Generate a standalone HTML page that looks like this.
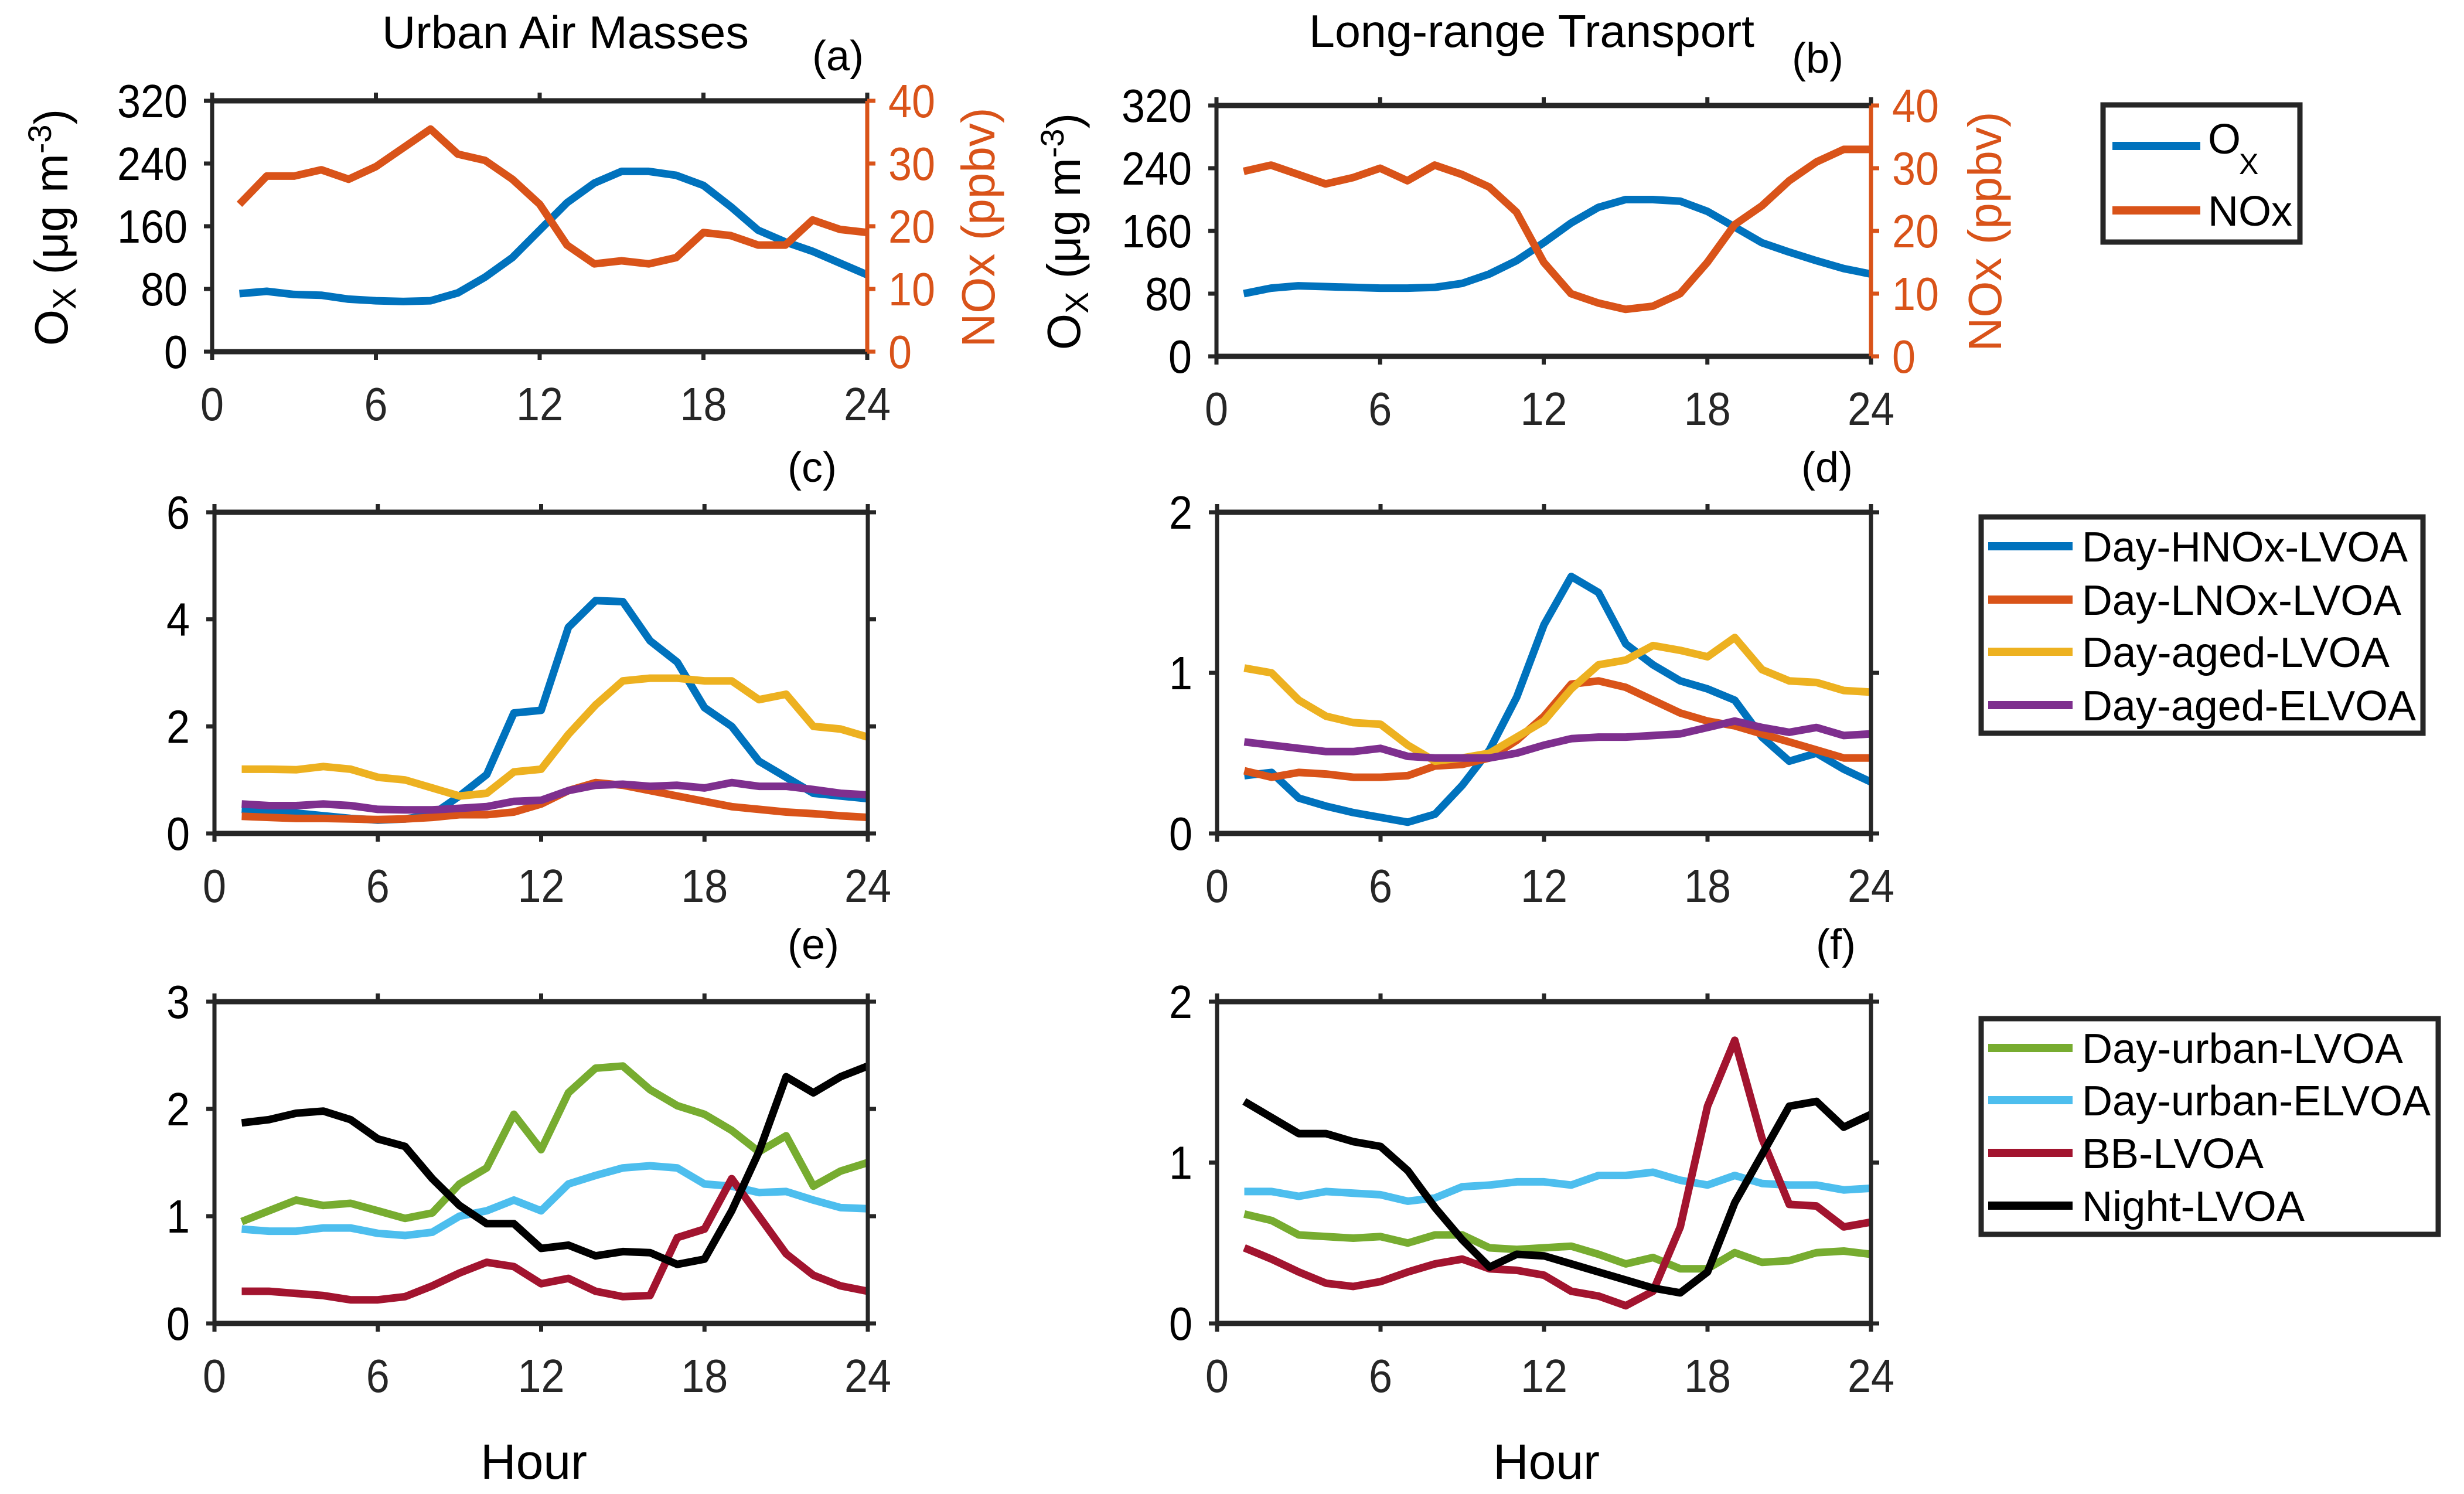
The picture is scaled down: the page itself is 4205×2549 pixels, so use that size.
<!DOCTYPE html>
<html><head><meta charset="utf-8">
<style>
html,body{margin:0;padding:0;background:#fff;}
svg{display:block;}
text{font-family:"Liberation Sans",Arial,sans-serif;}
</style></head>
<body>
<svg id="fig" xmlns="http://www.w3.org/2000/svg" width="4205" height="2549" viewBox="0 0 4205 2549">
<rect width="4205" height="2549" fill="#fff"/>
</svg>
<script>
const hours = [1,2,3,4,5,6,7,8,9,10,11,12,13,14,15,16,17,18,19,20,21,22,23,24];
const xTicks = [0,6,12,18,24];
// Panel a
const aOx  = [74,77,73,72,67,65,64,65,75,95,120,155,190,215,230,230,225,212,185,155,140,128,113,98];
const aNOx = [23.5,28,28,29,27.5,29.5,32.5,35.5,31.5,30.5,27.5,23.5,17,14,14.5,14,15,19,18.5,17,17,21,19.5,19];
// Panel b
const bOx  = [80,87,90,89,88,87,87,88,93,105,122,145,170,190,200,200,198,185,165,145,133,122,112,105];
const bNOx = [29.5,30.5,29,27.5,28.5,30,28,30.5,29,27,23,15,10,8.5,7.5,8,10,15,21,24,28,31,33,33];
const oxTicks = [0,80,160,240,320];
const noxTicks = [0,10,20,30,40];
// Panel c
const cHNOx = [0.45,0.42,0.38,0.33,0.28,0.25,0.27,0.35,0.7,1.1,2.25,2.3,3.85,4.35,4.33,3.6,3.2,2.35,2.0,1.35,1.05,0.75,0.7,0.65];
const cLNOx = [0.32,0.3,0.28,0.28,0.27,0.26,0.27,0.3,0.35,0.35,0.4,0.55,0.8,0.95,0.9,0.8,0.7,0.6,0.5,0.45,0.4,0.37,0.33,0.3];
const cAged = [1.2,1.2,1.19,1.25,1.2,1.05,1.0,0.85,0.7,0.75,1.15,1.2,1.85,2.4,2.85,2.9,2.9,2.85,2.85,2.5,2.6,2.0,1.95,1.8];
const cAgedE = [0.55,0.52,0.52,0.55,0.52,0.45,0.44,0.44,0.47,0.5,0.6,0.62,0.8,0.9,0.92,0.88,0.9,0.85,0.95,0.88,0.88,0.82,0.75,0.72];
const cTicks = [0,2,4,6];
// Panel d
const dHNOx = [0.36,0.38,0.22,0.17,0.13,0.1,0.07,0.12,0.3,0.52,0.85,1.3,1.6,1.5,1.18,1.05,0.95,0.9,0.83,0.6,0.45,0.5,0.4,0.32];
const dLNOx = [0.39,0.35,0.38,0.37,0.35,0.35,0.36,0.42,0.43,0.47,0.58,0.73,0.93,0.95,0.91,0.83,0.75,0.7,0.67,0.62,0.57,0.52,0.47,0.47];
const dAged = [1.03,1.0,0.83,0.73,0.69,0.68,0.55,0.45,0.47,0.5,0.6,0.7,0.9,1.05,1.08,1.17,1.14,1.1,1.22,1.02,0.95,0.94,0.89,0.88];
const dAgedE = [0.57,0.55,0.53,0.51,0.51,0.53,0.48,0.47,0.47,0.47,0.5,0.55,0.59,0.6,0.6,0.61,0.62,0.66,0.7,0.66,0.63,0.66,0.61,0.62];
const dTicks = [0,1,2];
// Panel e
const eUrbanL = [0.95,1.05,1.15,1.1,1.12,1.05,0.98,1.03,1.3,1.45,1.95,1.62,2.15,2.38,2.4,2.18,2.03,1.95,1.8,1.6,1.75,1.28,1.42,1.5];
const eUrbanE = [0.88,0.86,0.86,0.89,0.89,0.84,0.82,0.85,1.0,1.05,1.15,1.05,1.3,1.38,1.45,1.47,1.45,1.3,1.28,1.22,1.23,1.15,1.08,1.07];
const eBB = [0.3,0.3,0.28,0.26,0.22,0.22,0.25,0.35,0.47,0.57,0.53,0.37,0.42,0.3,0.25,0.26,0.8,0.88,1.35,1.0,0.65,0.45,0.35,0.3];
const eNight = [1.87,1.9,1.96,1.98,1.9,1.72,1.65,1.35,1.1,0.93,0.93,0.7,0.73,0.63,0.67,0.66,0.55,0.6,1.05,1.6,2.3,2.15,2.3,2.4];
const eTicks = [0,1,2,3];
// Panel f
const fUrbanL = [0.68,0.64,0.55,0.54,0.53,0.54,0.5,0.55,0.55,0.47,0.46,0.47,0.48,0.43,0.37,0.41,0.34,0.34,0.44,0.38,0.39,0.44,0.45,0.43];
const fUrbanE = [0.82,0.82,0.79,0.82,0.81,0.8,0.76,0.78,0.85,0.86,0.88,0.88,0.86,0.92,0.92,0.94,0.89,0.86,0.92,0.87,0.86,0.86,0.83,0.84];
const fBB = [0.47,0.4,0.32,0.25,0.23,0.26,0.32,0.37,0.4,0.34,0.33,0.3,0.2,0.17,0.11,0.2,0.6,1.35,1.76,1.15,0.74,0.73,0.6,0.63];
const fNight = [1.38,1.28,1.18,1.18,1.13,1.1,0.95,0.72,0.52,0.35,0.43,0.42,0.37,0.32,0.27,0.22,0.19,0.32,0.75,1.05,1.35,1.38,1.22,1.3];
const fTicks = [0,1,2];

const NS = "http://www.w3.org/2000/svg";
const svg = document.getElementById('fig');
const C = {blue:"#0072BD",orange:"#D95319",yellow:"#EDB120",purple:"#7E2F8E",green:"#77AC30",cyan:"#4DBEEE",red:"#A2142F",black:"#000000"};
function mk(tag, attrs, parent){const e=document.createElementNS(NS,tag);for(const k in attrs)e.setAttribute(k,attrs[k]);(parent||svg).appendChild(e);return e;}
function txt(s, attrs, parent){const t=mk('text',attrs,parent);t.textContent=s;return t;}

function panel(name, box, yMax, yTicksArr, series, opts){
  opts = opts||{};
  const g = mk('g',{});
  
  
  const xs = v => box.x0 + (v/24)*(box.x1-box.x0);
  const ys = v => box.y1 - (v/yMax)*(box.y1-box.y0);
  series.forEach(s=>{
    const sc = s.yMax ? (v => box.y1 - (v/s.yMax)*(box.y1-box.y0)) : ys;
    const pts = hours.map((h,i)=>xs(h).toFixed(1)+","+sc(s.data[i]).toFixed(1)).join(" ");
    const p = mk('polyline',{points:pts,fill:"none",stroke:s.color,"stroke-width":13,"stroke-linejoin":"round"},g);
    
    
  });
  const ax = mk('g',{},g);
  
  
  const rc = opts.rightColor || "#262626";
  mk('line',{x1:box.x0,y1:box.y0,x2:box.x1,y2:box.y0,stroke:"#262626","stroke-width":9},ax);
  mk('line',{x1:box.x0,y1:box.y1,x2:box.x1,y2:box.y1,stroke:"#262626","stroke-width":9},ax);
  mk('line',{x1:box.x0,y1:box.y0,x2:box.x0,y2:box.y1,stroke:"#262626","stroke-width":7},ax);
  mk('line',{x1:box.x1,y1:box.y0,x2:box.x1,y2:box.y1,stroke:rc,"stroke-width":7},ax);
  xTicks.forEach(t=>{
    const x = xs(t);
    mk('line',{x1:x,y1:box.y0-14,x2:x,y2:box.y0,stroke:"#262626","stroke-width":7},ax);
    mk('line',{x1:x,y1:box.y1,x2:x,y2:box.y1+14,stroke:"#262626","stroke-width":7},ax);
    const s = String(t);
    const l = txt(s,{x:x,y:box.y1+117,"font-size":80,"text-anchor":"middle",fill:"#262626",textLength:s.length*40,lengthAdjust:"spacingAndGlyphs"},ax);
    
    
  });
  yTicksArr.forEach(t=>{
    const y = ys(t);
    mk('line',{x1:box.x0-14,y1:y,x2:box.x0,y2:y,stroke:"#262626","stroke-width":7},ax);
    if(!opts.rightTicks) mk('line',{x1:box.x1,y1:y,x2:box.x1+14,y2:y,stroke:"#262626","stroke-width":7},ax);
    const s = String(t);
    const l = txt(s,{x:box.x0-42,y:y+28,"font-size":80,"text-anchor":"end",fill:"#000",textLength:s.length*40,lengthAdjust:"spacingAndGlyphs"},ax);
    
    
  });
  if(opts.rightTicks){
    opts.rightTicks.forEach(t=>{
      const y = box.y1 - (t/opts.rightMax)*(box.y1-box.y0);
      mk('line',{x1:box.x1,y1:y,x2:box.x1+14,y2:y,stroke:rc,"stroke-width":7},ax);
      const s = String(t);
      const l = txt(s,{x:box.x1+36,y:y+28,"font-size":80,"text-anchor":"start",fill:rc,textLength:s.length*40,lengthAdjust:"spacingAndGlyphs"},ax);
      
      
    });
  }
  return g;
}

const A = {x0:362,x1:1480,y0:172,y1:600};
const B = {x0:2076,x1:3193,y0:180,y1:608};
const Cb = {x0:366,x1:1481,y0:874,y1:1422};
const D = {x0:2077,x1:3193,y0:874,y1:1422};
const E = {x0:366,x1:1481,y0:1709,y1:2258};
const F = {x0:2077,x1:3193,y0:1709,y1:2258};

panel('panel-a',A,320,oxTicks,[{name:'ox-line',data:aOx,color:C.blue},{name:'nox-line',data:aNOx,color:C.orange,yMax:40}],{rightTicks:noxTicks,rightMax:40,rightColor:C.orange});
panel('panel-b',B,320,oxTicks,[{name:'ox-line',data:bOx,color:C.blue},{name:'nox-line',data:bNOx,color:C.orange,yMax:40}],{rightTicks:noxTicks,rightMax:40,rightColor:C.orange});
panel('panel-c',Cb,6,cTicks,[
  {name:'day-hnox-lvoa-line',data:cHNOx,color:C.blue},
  {name:'day-lnox-lvoa-line',data:cLNOx,color:C.orange},
  {name:'day-aged-lvoa-line',data:cAged,color:C.yellow},
  {name:'day-aged-elvoa-line',data:cAgedE,color:C.purple}]);
panel('panel-d',D,2,dTicks,[
  {name:'day-hnox-lvoa-line',data:dHNOx,color:C.blue},
  {name:'day-lnox-lvoa-line',data:dLNOx,color:C.orange},
  {name:'day-aged-lvoa-line',data:dAged,color:C.yellow},
  {name:'day-aged-elvoa-line',data:dAgedE,color:C.purple}]);
panel('panel-e',E,3,eTicks,[
  {name:'day-urban-lvoa-line',data:eUrbanL,color:C.green},
  {name:'day-urban-elvoa-line',data:eUrbanE,color:C.cyan},
  {name:'bb-lvoa-line',data:eBB,color:C.red},
  {name:'night-lvoa-line',data:eNight,color:C.black}]);
panel('panel-f',F,2,fTicks,[
  {name:'day-urban-lvoa-line',data:fUrbanL,color:C.green},
  {name:'day-urban-elvoa-line',data:fUrbanE,color:C.cyan},
  {name:'bb-lvoa-line',data:fBB,color:C.red},
  {name:'night-lvoa-line',data:fNight,color:C.black}]);

function legend(name, box, entries, lineX0, lineX1, textX, fs, tl){
  const g = mk('g',{});
  
  
  mk('rect',{x:box.x0,y:box.y0,width:box.x1-box.x0,height:box.y1-box.y0,fill:"#fff",stroke:"#262626","stroke-width":9},g);
  entries.forEach(e=>{
    mk('line',{x1:lineX0,y1:e.y,x2:lineX1,y2:e.y,stroke:e.color,"stroke-width":14},g);
    if(e.label){
      const attrs = {x:textX,y:e.y+26,"font-size":fs,fill:"#000"};
      if(tl) {attrs.textLength=e.tl||tl; attrs.lengthAdjust="spacingAndGlyphs";}
      const t = txt(e.label,attrs,g);
      
      
    }
  });
  return g;
}
const lg1 = legend('legend-ox-nox',{x0:3589,y0:179,x1:3925,y1:413},[{y:249,color:C.blue},{y:359,color:C.orange,label:"NOx"}],3605,3755,3768,72,0);
const ox = txt("O",{x:3768,y:262,"font-size":72,fill:"#000"},lg1);


const oxs = txt("X",{x:3821,y:297,"font-size":50,fill:"#000"},lg1);



legend('legend-day-factors',{x0:3381,y0:882,x1:4135,y1:1251},[
  {y:932,color:C.blue,label:"Day-HNOx-LVOA",tl:556},
  {y:1023,color:C.orange,label:"Day-LNOx-LVOA",tl:545},
  {y:1112,color:C.yellow,label:"Day-aged-LVOA",tl:525},
  {y:1203,color:C.purple,label:"Day-aged-ELVOA",tl:570}],3393,3537,3553,72,550);
legend('legend-urban-factors',{x0:3381,y0:1738,x1:4161,y1:2106},[
  {y:1788,color:C.green,label:"Day-urban-LVOA",tl:548},
  {y:1877,color:C.cyan,label:"Day-urban-ELVOA",tl:595},
  {y:1967,color:C.red,label:"BB-LVOA",tl:310},
  {y:2057,color:C.black,label:"Night-LVOA",tl:380}],3393,3537,3553,72,550);
</script>
<svg style="position:absolute;left:0;top:0" width="4205" height="2549">
<text x="965" y="82" font-size="78" text-anchor="middle" textLength="626" lengthAdjust="spacingAndGlyphs">Urban Air Masses</text>
<text x="2614" y="80" font-size="78" text-anchor="middle" textLength="760" lengthAdjust="spacingAndGlyphs">Long-range Transport</text>
<text x="1430" y="120" font-size="72" text-anchor="middle">(a)</text>
<text x="3102" y="124" font-size="72" text-anchor="middle">(b)</text>
<text x="1386" y="822" font-size="72" text-anchor="middle">(c)</text>
<text x="3118" y="822" font-size="72" text-anchor="middle">(d)</text>
<text x="1388" y="1636" font-size="72" text-anchor="middle">(e)</text>
<text x="3133" y="1636" font-size="72" text-anchor="middle">(f)</text>
<text transform="translate(115,388) rotate(-90)" font-size="80" text-anchor="middle">O<tspan font-size="56" dy="14">X</tspan><tspan dy="-14"> (μg m</tspan><tspan font-size="56" dy="-28">-3</tspan><tspan dy="28">)</tspan></text>
<text transform="translate(1843,395) rotate(-90)" font-size="80" text-anchor="middle">O<tspan font-size="56" dy="14">X</tspan><tspan dy="-14"> (μg m</tspan><tspan font-size="56" dy="-28">-3</tspan><tspan dy="28">)</tspan></text>
<text transform="translate(1697,388) rotate(-90)" font-size="80" text-anchor="middle" fill="#D95319">NOx (ppbv)</text>
<text transform="translate(3415,395) rotate(-90)" font-size="80" text-anchor="middle" fill="#D95319">NOx (ppbv)</text>
<text x="911" y="2523" font-size="84" text-anchor="middle">Hour</text>
<text x="2639" y="2523" font-size="84" text-anchor="middle">Hour</text>
</svg>
</body></html>
